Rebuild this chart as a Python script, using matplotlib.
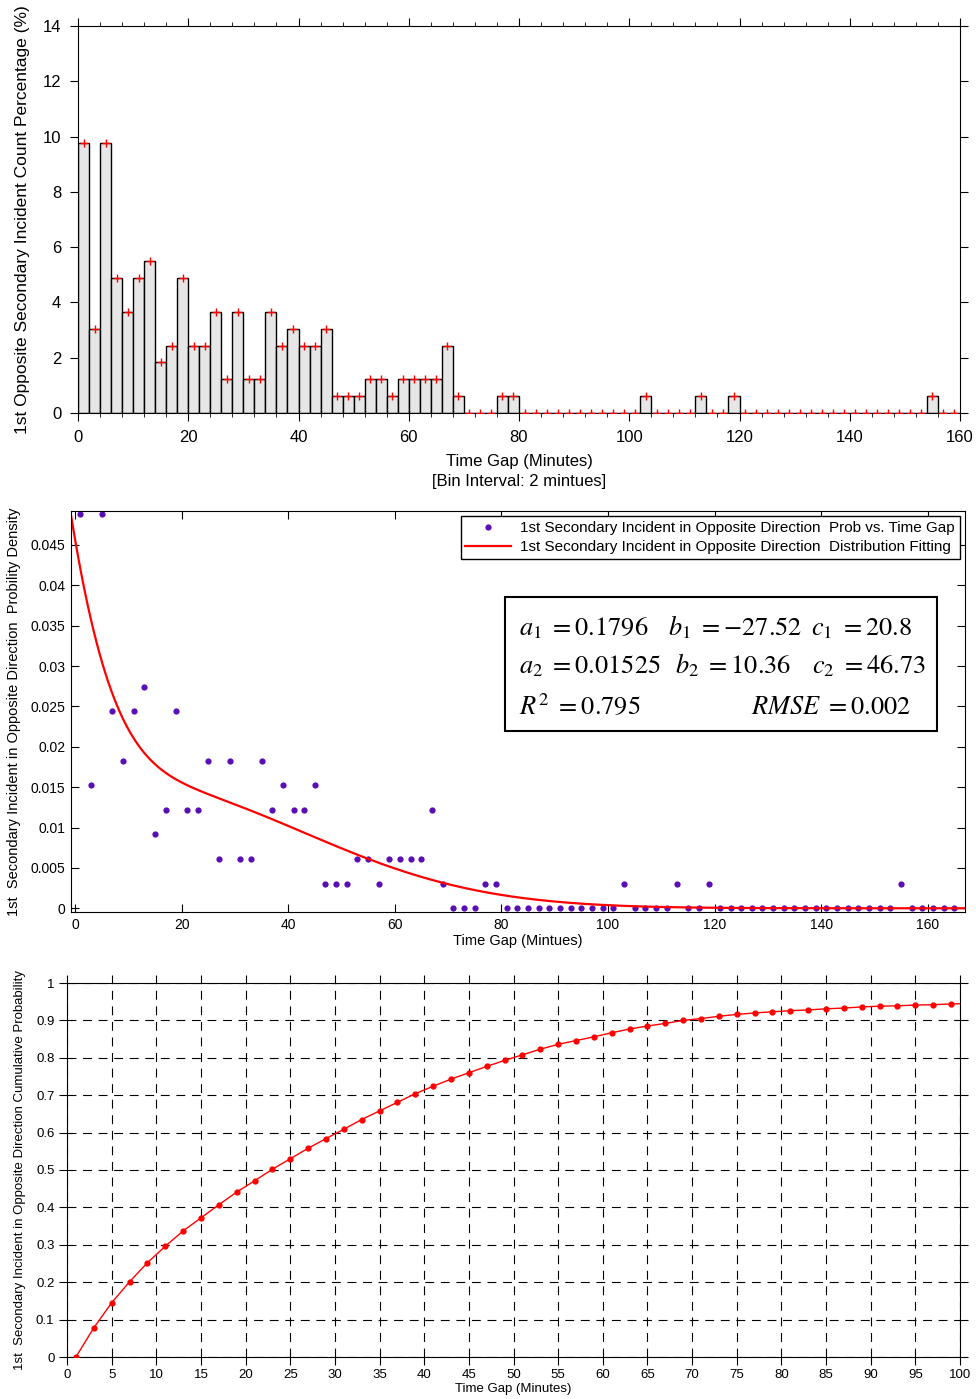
import numpy as np
import matplotlib
matplotlib.use('Agg')
import matplotlib.pyplot as plt
from matplotlib.ticker import MultipleLocator
from matplotlib.patches import Rectangle

plt.rcParams['font.family'] = ['Liberation Sans', 'DejaVu Sans']
plt.rcParams['mathtext.fontset'] = 'stix'

# incidents per 2-minute bin, bins start at 0, 2, 4, ... (164 incidents)
BIN_WIDTH = 2
TOTAL = 164
COUNTS = [16, 5, 16, 8, 6, 8, 9, 3, 4, 8,
          4, 4, 6, 2, 6, 2, 2, 6, 4, 5,
          4, 4, 5, 1, 1, 1, 2, 2, 1, 2,
          2, 2, 2, 4, 1, 0, 0, 0, 1, 1,
          0, 0, 0, 0, 0, 0, 0, 0, 0, 0,
          0, 1, 0, 0, 0, 0, 1, 0, 0, 1,
          0, 0, 0, 0, 0, 0, 0, 0, 0, 0,
          0, 0, 0, 0, 0, 0, 0, 1, 0, 0,
          0, 0, 0]

# two-term gaussian fit reported on the chart
FIT_A = [0.1796, 0.01525]
FIT_B = [-27.52, 10.36]
FIT_C = [20.8, 46.73]

# cumulative probability read at 1, 3, 5, ... minutes
CUM_X = list(range(1, 102, 2))
CUM_P = [0.000, 0.078, 0.145, 0.201, 0.252, 0.296, 0.337, 0.372, 0.407, 0.441,
         0.471, 0.502, 0.530, 0.558, 0.584, 0.609, 0.635, 0.658, 0.681, 0.704,
         0.724, 0.743, 0.760, 0.777, 0.793, 0.808, 0.823, 0.836, 0.846, 0.856,
         0.867, 0.877, 0.885, 0.892, 0.900, 0.905, 0.911, 0.916, 0.920, 0.923,
         0.926, 0.928, 0.931, 0.933, 0.936, 0.938, 0.939, 0.941, 0.942, 0.944,
         0.945]

W, H = 976, 1399


def px_rect(left, top, right, bottom):
    return [left / W, 1 - bottom / H, (right - left) / W, (bottom - top) / H]


counts = np.array(COUNTS)
bin_start = np.arange(len(counts)) * BIN_WIDTH
centers = bin_start + BIN_WIDTH / 2
pct = counts / TOTAL * 100
density = counts / TOTAL / BIN_WIDTH

fig = plt.figure(figsize=(W / 100, H / 100), dpi=100)

# ---- top: histogram ----
ax1 = fig.add_axes(px_rect(78, 26, 960, 413))
ax1.bar(bin_start, pct, width=BIN_WIDTH, align='edge', color='#e6e6e6',
        edgecolor='black', linewidth=1.0, zorder=2)
ax1.plot(centers, pct, '+', color='red', ms=6, mew=1.0, zorder=3)
ax1.set_xlim(0, 160)
ax1.set_ylim(0, 14)
ax1.set_xticks(range(0, 161, 20))
ax1.xaxis.set_minor_locator(MultipleLocator(4))
ax1.set_yticks(range(0, 15, 2))
ax1.tick_params(which='both', direction='out', top=True, right=True, labelsize=12)
ax1.tick_params(which='major', length=6, pad=6)
ax1.tick_params(which='minor', length=3)
ax1.set_xlabel('Time Gap (Minutes)\n[Bin Interval: 2 mintues]', fontsize=12,
               labelpad=7, linespacing=1.35)
ax1.set_ylabel('1st Opposite Secondary Incident Count Percentage (%)', fontsize=12.5,
               labelpad=9)

# ---- middle: density and fit ----
ax2 = fig.add_axes(px_rect(71, 511, 965, 912))
xs = np.linspace(-0.75, 167, 600)
fit = sum(a * np.exp(-((xs - b) / c) ** 2) for a, b, c in zip(FIT_A, FIT_B, FIT_C))
ax2.plot(centers, density, 'o', color='#5a0fb4', ms=4.5, mec='none', clip_on=False,
         label='1st Secondary Incident in Opposite Direction  Prob vs. Time Gap')
ax2.plot(xs, fit, '-', color='red', lw=1.6,
         label='1st Secondary Incident in Opposite Direction  Distribution Fitting')
ax2.set_xlim(-0.75, 167)
ax2.set_ylim(-0.00046, 0.0492)
ax2.set_xticks(range(0, 161, 20))
ax2.set_yticks([0, 0.005, 0.01, 0.015, 0.02, 0.025, 0.03, 0.035, 0.04, 0.045])
ax2.set_yticklabels(['0', '0.005', '0.01', '0.015', '0.02', '0.025', '0.03',
                     '0.035', '0.04', '0.045'])
ax2.tick_params(direction='in', top=True, right=True, length=6, labelsize=10, pad=4)
ax2.set_xlabel('Time Gap (Mintues)', fontsize=10.5, labelpad=2)
ax2.set_ylabel('1st  Secondary Incident in Opposite Direction  Probility Density',
               fontsize=10.5, labelpad=7)
leg = ax2.legend(loc='upper right', fontsize=11, frameon=True, fancybox=False,
                 edgecolor='black', framealpha=1, borderaxespad=0.35,
                 handlelength=3.0, borderpad=0.3, labelspacing=0.35,
                 handletextpad=0.6)
leg.get_frame().set_linewidth(1.0)

ax2.add_patch(Rectangle((0.4855, 0.4514), 0.4832, 0.3341, transform=ax2.transAxes,
                        fill=False, edgecolor='black', lw=1.5))
eq = [
    (0.5011, 0.691, r'$a_1\ =0.1796$'),
    (0.6678, 0.691, r'$b_1\ =-27.52$'),
    (0.8277, 0.691, r'$c_1\ =20.8$'),
    (0.5011, 0.596, r'$a_2\ =0.01525$'),
    (0.6756, 0.596, r'$b_2\ =10.36$'),
    (0.8289, 0.596, r'$c_2\ =46.73$'),
    (0.5011, 0.494, r'$R^2\ =0.795$'),
    (0.7606, 0.494, r'$RMSE\ =0.002$'),
]
for x, y, s in eq:
    ax2.text(x, y, s, transform=ax2.transAxes, fontsize=19, va='baseline', ha='left')

# ---- bottom: cumulative probability ----
ax3 = fig.add_axes(px_rect(67, 983, 960, 1357))
ax3.plot(CUM_X, CUM_P, '-', color='red', lw=1.0, marker='o', ms=3.5, zorder=3)
ax3.set_xlim(0, 100)
ax3.set_ylim(0, 1)
ax3.set_xticks(range(0, 101, 5))
ax3.set_yticks(np.round(np.arange(0, 1.01, 0.1), 1))
ax3.set_yticklabels(['0', '0.1', '0.2', '0.3', '0.4', '0.5', '0.6', '0.7', '0.8',
                     '0.9', '1'])
ax3.grid(True, color='black', linestyle=(0, (8, 6)), linewidth=0.8)
ax3.set_axisbelow(True)
ax3.tick_params(direction='out', top=True, right=True, length=6, labelsize=9.5, pad=3)
ax3.set_xlabel('Time Gap (Minutes)', fontsize=9.5, labelpad=1)
ax3.set_ylabel('1st  Secondary Incident in Opposite Direction Cumulative Probability',
               fontsize=9.5, labelpad=7)

fig.savefig('out.png', dpi=100)
